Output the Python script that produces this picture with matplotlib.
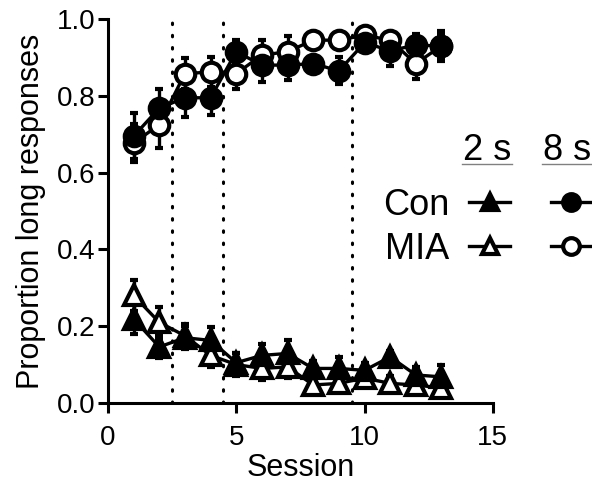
import numpy as np
import matplotlib
matplotlib.use('Agg')
import matplotlib.pyplot as plt
from matplotlib.lines import Line2D
from matplotlib.ticker import FormatStrFormatter

plt.rcParams['font.family'] = ['Liberation Sans', 'DejaVu Sans']

sessions = np.arange(1, 14)

# long-duration (8 s) trials
con_8s = [0.695, 0.768, 0.795, 0.795, 0.915, 0.880, 0.880, 0.884, 0.865, 0.938, 0.918, 0.932, 0.930]
con_8s_err = [0.06, 0.05, 0.05, 0.045, 0.03, 0.045, 0.04, 0.02, 0.035, 0.025, 0.04, 0.03, 0.04]
mia_8s = [0.677, 0.725, 0.858, 0.862, 0.858, 0.906, 0.915, 0.945, 0.945, 0.958, 0.945, 0.884, 0.930]
mia_8s_err = [0.05, 0.06, 0.04, 0.04, 0.04, 0.04, 0.04, 0.02, 0.02, 0.02, 0.02, 0.04, 0.03]

# short-duration (2 s) trials
con_2s = [0.219, 0.146, 0.170, 0.163, 0.105, 0.124, 0.129, 0.090, 0.090, 0.085, 0.120, 0.073, 0.068]
con_2s_err = [0.04, 0.03, 0.03, 0.035, 0.025, 0.03, 0.035, 0.02, 0.03, 0.02, 0.015, 0.02, 0.03]
mia_2s = [0.280, 0.210, 0.175, 0.124, 0.100, 0.090, 0.094, 0.047, 0.051, 0.065, 0.051, 0.047, 0.039]
mia_2s_err = [0.04, 0.04, 0.03, 0.03, 0.03, 0.03, 0.03, 0.02, 0.02, 0.02, 0.02, 0.02, 0.02]

phase_breaks = [2.5, 4.5, 9.5]

fig = plt.figure(figsize=(5.92, 4.86), dpi=100)
ax = fig.add_axes([0.1824, 0.1708, 0.650, 0.790])

for x in phase_breaks:
    ax.plot([x, x], [0, 1.0], color='black', lw=2.2, ls=(0, (0.5, 3.5)),
            dash_capstyle='round', zorder=1)

lw = 2.4
ms = 14
kw = dict(color='black', lw=lw, elinewidth=lw, capsize=3, capthick=3,
          markeredgewidth=3, markersize=ms, zorder=3)

ax.errorbar(sessions, mia_8s, yerr=mia_8s_err, fmt='-o', markerfacecolor='white', **kw)
ax.errorbar(sessions, con_8s, yerr=con_8s_err, fmt='-o', markerfacecolor='black', **kw)
ax.errorbar(sessions, mia_2s, yerr=mia_2s_err, fmt='-^', markerfacecolor='white', **kw)
ax.errorbar(sessions, con_2s, yerr=con_2s_err, fmt='-^', markerfacecolor='black', **kw)

ax.set_xlim(0, 15)
ax.set_ylim(0, 1.0)
ax.set_xticks([0, 5, 10, 15])
ax.set_yticks(np.arange(0, 1.01, 0.2))
ax.yaxis.set_major_formatter(FormatStrFormatter('%.1f'))
for s in ['top', 'right']:
    ax.spines[s].set_visible(False)
for s in ['left', 'bottom']:
    ax.spines[s].set_linewidth(2.2)
ax.tick_params(width=2.2, length=7, labelsize=20, pad=2)
ax.tick_params(axis='x', pad=9)
ax.set_xlabel('Session', fontsize=22, labelpad=1)
ax.set_ylabel('Proportion long responses', fontsize=22, labelpad=8)

def handle(marker, face):
    return Line2D([], [], color='black', lw=lw, marker=marker, markersize=12,
                  markeredgewidth=3, markerfacecolor=face)

fig.legend([handle('^', 'black'), handle('^', 'white'), handle('o', 'black'), handle('o', 'white')],
           ['Con', 'MIA', '', ''], ncol=2, markerfirst=False, frameon=False,
           fontsize=26, handlelength=1.14, handletextpad=0.55, columnspacing=0.56,
           labelspacing=0.25, borderpad=0, borderaxespad=0, loc='upper left',
           bbox_to_anchor=(0.647, 0.614))

for label, xc in [('2 s', 487), ('8 s', 567)]:
    fig.text(xc / 592, 1 - 150 / 486, label, fontsize=26, ha='center', va='center')
    fig.add_artist(Line2D([(xc - 25) / 592, (xc + 25) / 592], [1 - 164 / 486] * 2,
                          color='gray', lw=1, transform=fig.transFigure))

fig.savefig('out.png', dpi=100)
